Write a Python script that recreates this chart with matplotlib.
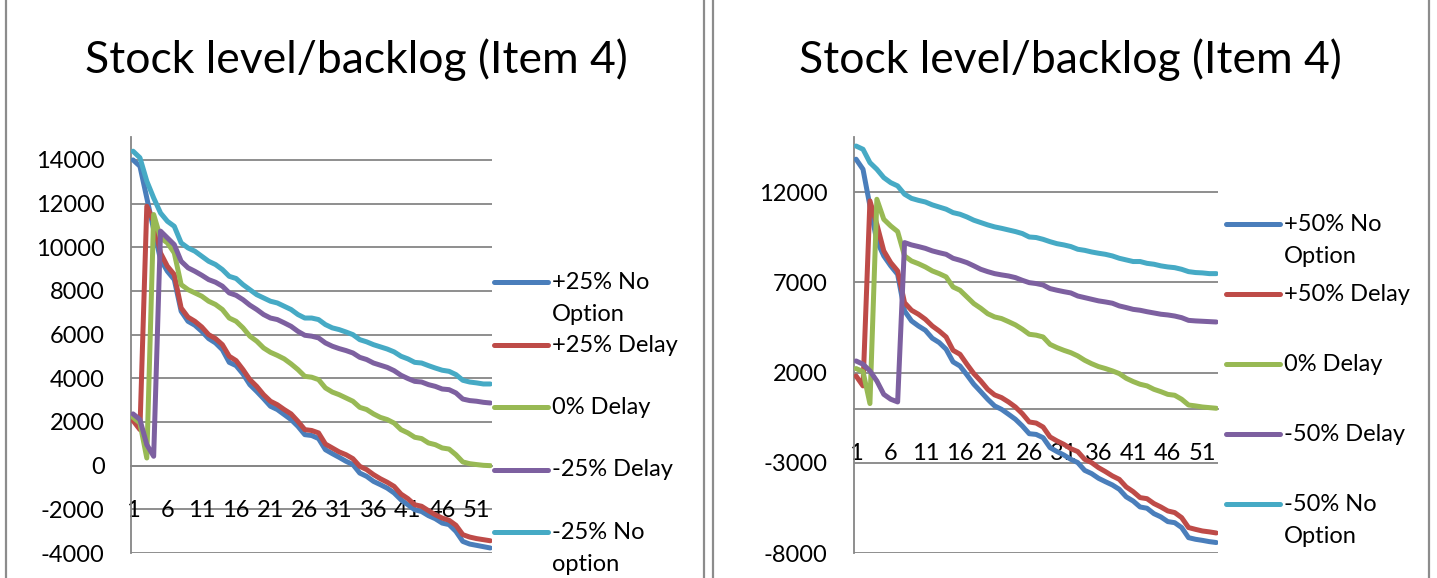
import numpy as np
import matplotlib
matplotlib.use("Agg")
import matplotlib.pyplot as plt
from matplotlib.lines import Line2D

plt.rcParams['font.family'] = ['Lato', 'DejaVu Sans']

periods = list(range(1, 54))
xtick_pos = list(range(1, 54, 5))

# left chart: +/-25%
left_names = ['+25% No\nOption', '+25% Delay', '0% Delay', '-25% Delay', '-25% No\noption']
l_plus_no = [14000, 13710, 12260, 10810, 9440, 8900, 8520, 7070, 6610, 6430, 6150, 5820, 5620, 5310, 4730,
             4580, 4200, 3710, 3400, 3070, 2720, 2570, 2340, 2110, 1800, 1420, 1380, 1240, 730, 550,
             380, 200, 50, -340, -490, -720, -870, -1030, -1250, -1560, -1790, -2020, -2100, -2290, -2430,
             -2630, -2700, -3010, -3470, -3590, -3650, -3710, -3770]
l_plus_delay = [2060, 1650, 11880, 11190, 9740, 9130, 8750, 7220, 6800, 6610, 6350, 6000, 5820, 5540, 5010,
                4810, 4400, 3940, 3630, 3250, 2950, 2790, 2570, 2370, 2030, 1650, 1610, 1500, 990, 810,
                630, 500, 320, -30, -180, -410, -600, -760, -950, -1300, -1510, -1790, -1860, -2060, -2250,
                -2400, -2500, -2730, -3160, -3270, -3340, -3390, -3440]
l_zero_delay = [2210, 1950, 350, 11500, 10430, 10200, 9740, 8290, 8060, 7910, 7760, 7530, 7380, 7150, 6760,
                6610, 6310, 5930, 5700, 5390, 5190, 5050, 4890, 4660, 4400, 4090, 4050, 3940, 3560, 3370,
                3250, 3100, 2950, 2670, 2570, 2370, 2210, 2110, 1950, 1650, 1500, 1300, 1240, 1040, 960,
                810, 760, 500, 170, 90, 50, 15, 0]
l_minus_delay = [2370, 2110, 960, 430, 10740, 10430, 10120, 9360, 9060, 8900, 8720, 8520, 8400, 8220, 7910,
                 7800, 7600, 7350, 7150, 6920, 6760, 6690, 6540, 6380, 6150, 5970, 5930, 5850, 5620, 5470,
                 5360, 5270, 5160, 4960, 4860, 4700, 4600, 4500, 4350, 4140, 3990, 3860, 3830, 3710, 3630,
                 3510, 3480, 3330, 3050, 2980, 2950, 2900, 2870]
l_minus_no = [14400, 14100, 13030, 12260, 11570, 11190, 10960, 10200, 9970, 9820, 9590, 9360, 9210, 8980, 8670,
              8570, 8290, 8060, 7830, 7680, 7530, 7450, 7300, 7150, 6920, 6760, 6760, 6690, 6460, 6310,
              6230, 6120, 6000, 5770, 5670, 5540, 5440, 5340, 5210, 5010, 4890, 4730, 4700, 4580, 4470,
              4370, 4320, 4170, 3910, 3830, 3790, 3740, 3740]

# right chart: +/-50%
right_names = ['+50% No\nOption', '+50% Delay', '0% Delay', '-50% Delay', '-50% No\nOption']
r_plus_no = [13820, 13260, 11230, 9290, 8460, 7910, 7440, 5410, 4860, 4580, 4340, 3900, 3660, 3290, 2590,
             2360, 1870, 1350, 940, 520, 150, -40, -310, -590, -960, -1390, -1430, -1610, -2160, -2380,
             -2570, -2810, -2990, -3420, -3600, -3860, -4050, -4230, -4470, -4890, -5120, -5450, -5520, -5820, -6000,
             -6260, -6320, -6590, -7150, -7240, -7300, -7370, -7420]
r_plus_delay = [1810, 1260, 11510, 10210, 8740, 8090, 7630, 5870, 5450, 5230, 4950, 4580, 4300, 3970, 3230,
                3010, 2460, 1940, 1530, 1070, 760, 610, 370, 90, -280, -740, -800, -1020, -1570, -1790,
                -1980, -2220, -2380, -2810, -2990, -3270, -3490, -3730, -3920, -4340, -4600, -4930, -4990, -5260, -5450,
                -5670, -5760, -6040, -6590, -6690, -6780, -6830, -6890]
r_zero_delay = [2220, 2050, 280, 11600, 10490, 10120, 9810, 8460, 8180, 8030, 7850, 7630, 7480, 7300, 6740,
                6560, 6190, 5820, 5560, 5260, 5080, 4990, 4820, 4640, 4400, 4120, 4070, 3970, 3560, 3380,
                3230, 3100, 2920, 2680, 2490, 2330, 2220, 2090, 1940, 1680, 1500, 1350, 1260, 1070, 940,
                790, 740, 520, 200, 150, 90, 55, 20]
r_minus_delay = [2640, 2460, 2090, 1530, 790, 520, 370, 9200, 9070, 8980, 8880, 8740, 8640, 8550, 8330,
                 8220, 8090, 7910, 7720, 7590, 7480, 7410, 7350, 7260, 7110, 6980, 6930, 6850, 6650, 6560,
                 6480, 6410, 6240, 6150, 6060, 5970, 5910, 5840, 5690, 5600, 5500, 5450, 5370, 5300, 5230,
                 5190, 5130, 5040, 4890, 4860, 4840, 4820, 4800]
r_minus_no = [14550, 14370, 13630, 13260, 12800, 12520, 12340, 11880, 11650, 11540, 11450, 11290, 11170, 11050, 10860,
              10770, 10620, 10440, 10310, 10180, 10070, 9990, 9900, 9810, 9700, 9510, 9480, 9380, 9250, 9140,
              9070, 8980, 8830, 8770, 8680, 8610, 8550, 8460, 8330, 8240, 8150, 8150, 8050, 8000, 7910,
              7850, 7810, 7720, 7590, 7540, 7520, 7480, 7480]

colors = ['#4A7EBB', '#BE4B48', '#98B954', '#7D60A0', '#46AAC5']
grid_c = '#868686'

W, H = 1437, 578
fig = plt.figure(figsize=(W / 100, H / 100), dpi=100)


def panel(rect, series, names, ylim, yticks, slot, title_x, leg_x0):
    ax = fig.add_axes(rect)
    for vals, c in zip(series, colors):
        ax.plot(periods, vals, color=c, lw=3.6, solid_capstyle='round', solid_joinstyle='round', zorder=3)
    ax.set_xlim(0.7, 53.25)
    ax.set_ylim(*ylim)
    ax.set_yticks(yticks)
    ax.set_yticklabels([str(v) for v in yticks])
    for v in yticks:
        ax.axhline(v, color=grid_c, lw=1.3, zorder=1)
    ax.set_xticks(xtick_pos)
    ax.set_xticklabels([str(v) for v in xtick_pos])
    for s in ['top', 'right']:
        ax.spines[s].set_visible(False)
    ax.spines['bottom'].set_position(('data', 0))
    ax.spines['bottom'].set_color(grid_c)
    ax.spines['bottom'].set_linewidth(1.3)
    ax.spines['left'].set_color(grid_c)
    ax.spines['left'].set_linewidth(1.3)
    ax.tick_params(axis='y', length=0, pad=19, labelsize=17)
    ax.tick_params(axis='x', length=0, pad=25, labelsize=17)
    ax.patch.set_alpha(0)

    fig.text(title_x / W, 1 - 60 / H, 'Stock level/backlog (Item 4)', ha='center', va='center', fontsize=32)

    # legend to the right of the plot
    y0 = slot[0]
    for k, (nm, c) in enumerate(zip(names, colors)):
        yy = y0 + k * slot[1]
        fig.add_artist(Line2D([(leg_x0) / W, (leg_x0 + 54) / W], [1 - yy / H, 1 - yy / H],
                              color=c, lw=3.6, solid_capstyle='round'))
        fig.text((leg_x0 + 58) / W, 1 - (yy - 10) / H, nm, ha='left', va='top', fontsize=17,
                 linespacing=1.62)
    return ax


panel([131 / W, 25 / H, 361 / W, 416 / H],
      [l_plus_no, l_plus_delay, l_zero_delay, l_minus_delay, l_minus_no], left_names,
      (-4000, 15050), list(range(-4000, 14001, 2000)), (282, 62.5), 356, 494)

panel([854 / W, 25 / H, 364 / W, 416 / H],
      [r_plus_no, r_plus_delay, r_zero_delay, r_minus_delay, r_minus_no], right_names,
      (-8000, 15050), [-8000, -3000, 2000, 7000, 12000], (224, 70), 1070, 1226)

# chart frames
for xp in [6, 704, 713, 1429]:
    fig.add_artist(Line2D([xp / W, xp / W], [0, 1], color='#8C8C8C', lw=1.6))

fig.savefig('out.png', dpi=100)
